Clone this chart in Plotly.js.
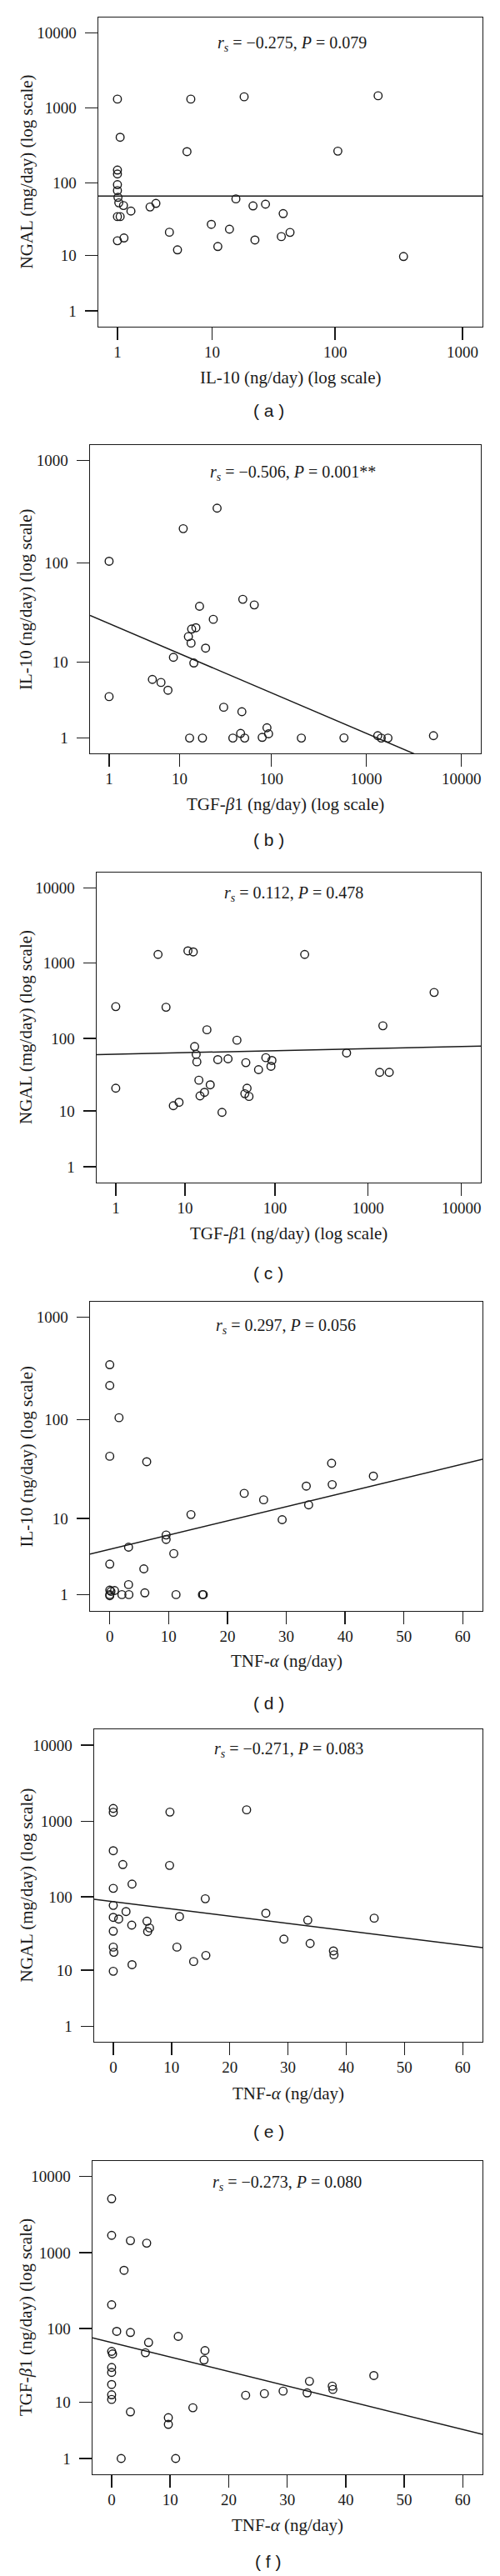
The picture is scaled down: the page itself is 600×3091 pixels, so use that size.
<!DOCTYPE html>
<html>
<head>
<meta charset="utf-8">
<script src="https://cdn.plot.ly/plotly-3.0.1.min.js"></script>
<style>
  html, body { margin: 0; padding: 0; background: #fff; }
  #chart { width: 600px; height: 3091px; }
</style>
</head>
<body>
<div id="chart"></div>
<script>
// (a) IL-10 vs NGAL
const il10_a = [1, 6.5, 18.6, 218, 1.1, 6.0, 105, 1, 1, 1, 1, 1.02, 1.05, 1.23, 1.55, 1, 1.1, 1, 1.25, 2.6, 3.0, 4.1, 4.9, 9.85, 11.2, 14.05, 15.9, 22.0, 22.8, 27.8, 38.6, 37.3, 43.8, 345];
const ngal_a = [1320, 1320, 1416, 1462, 409, 263, 267, 149, 132, 95, 79, 64, 54, 49.6, 41.7, 35, 35, 16.2, 17.7, 47.4, 53, 21.3, 12.0, 27.4, 13.4, 23.5, 61, 49, 16.6, 51.7, 38.5, 18.5, 21.2, 9.6];

// (b) TGF-b1 vs IL-10
const tgf_b = [1, 1, 11.0, 26.2, 49.6, 65.8, 16.8, 23.8, 13.7, 15.3, 12.6, 13.5, 19.6, 8.46, 14.5, 4.69, 6.01, 7.30, 30.9, 48.5, 89.8, 93.4, 47.0, 13.0, 18.1, 38.8, 52.0, 79.9, 207.5, 583, 1320, 1437, 1690, 5076];
const il10_b = [104, 4.06, 217, 344, 43.8, 38.5, 37.3, 27.6, 22.0, 22.7, 18.4, 15.8, 14.0, 11.2, 9.75, 6.44, 5.95, 4.84, 2.99, 2.61, 1.52, 1.2, 1.22, 1, 1, 1, 1, 1.03, 1, 1.01, 1.11, 1, 1, 1.11];

// (c) TGF-b1 vs NGAL
const tgf_c = [1, 1, 4.67, 5.90, 10.84, 12.5, 209, 5092, 1441, 589, 1332, 1686, 17.9, 38.6, 12.96, 13.5, 13.75, 23.7, 30.8, 48.3, 79.7, 92.7, 90.5, 66.4, 14.5, 19.5, 16.8, 14.95, 49.8, 47.1, 52.3, 7.26, 8.51, 26.4];
const ngal_c = [265, 21.0, 1307, 260, 1459, 1412, 1307, 409, 147, 63.6, 34.7, 34.7, 130, 94.3, 77.5, 60.9, 48.2, 51.7, 53.0, 47.0, 54.9, 50.4, 42.0, 37.8, 27.1, 23.4, 18.4, 16.4, 21.0, 17.6, 16.1, 11.9, 13.3, 9.53];

// (d) TNF-a vs IL-10
const tnf_d = [0, 0, 1.57, 0, 6.28, 13.8, 22.85, 26.15, 29.3, 33.4, 33.8, 37.7, 37.8, 44.8, 9.58, 9.58, 3.19, 10.88, 0, 5.79, 3.19, 0, 0.81, 0, 0, 2.06, 3.25, 5.96, 11.26, 15.75, 15.9, 0.2];
const il10_d = [343, 215, 104, 43.3, 38.2, 11.0, 18.3, 15.7, 9.7, 21.7, 13.9, 36.9, 22.5, 27.4, 6.6, 5.88, 4.78, 4.01, 2.96, 2.56, 1.50, 1.21, 1.19, 1.0, 0.95, 1, 1, 1.08, 1, 1, 1, 1.15];

// (e) TNF-a vs NGAL
const tnf_e = [0, 0, 9.73, 22.9, 0, 1.64, 9.67, 3.22, 0, 15.8, 0, 2.19, 26.2, 0, 0.93, 11.37, 44.8, 33.4, 5.79, 3.17, 6.23, 5.9, 0, 29.3, 33.8, 0, 10.93, 0.1, 37.8, 37.9, 15.9, 13.8, 3.22, 0];
const ngal_e = [1468, 1305, 1316, 1408, 408, 268, 261, 148, 130, 94.6, 77.1, 63.9, 60.7, 53.4, 50.7, 54.8, 52.1, 49.0, 47.4, 42.0, 38.5, 34.4, 34.8, 27.2, 23.7, 21.1, 21.1, 17.9, 18.7, 16.5, 16.2, 13.3, 12.0, 9.65];

// (f) TNF-a vs TGF-b1
const tnf_f = [0, 0, 3.21, 5.99, 2.12, 0, 0.87, 3.21, 11.38, 6.31, 15.95, 0, 0.16, 5.77, 15.79, 0, 0, 0, 0, 0, 44.8, 33.8, 37.7, 37.8, 29.3, 33.4, 26.1, 22.9, 3.21, 13.88, 9.69, 9.69, 1.63, 10.94];
const tgf_f = [5108, 1689, 1440, 1335, 587, 207, 92, 88.9, 78.9, 65.5, 51.1, 49.8, 46.1, 47.8, 38.2, 30.3, 25.9, 17.7, 12.7, 10.9, 23.5, 19.6, 16.8, 15.1, 14.3, 13.5, 13.2, 12.5, 7.18, 8.27, 5.86, 4.61, 1, 1];

// fitted lines, in log10(v+1) units (x is log10(x+1) for a-c, raw for d-f)
const fitIntercept = [1.829, 1.534, 1.785, 0.7412, 1.9419, 1.8223];
const fitSlope = [0, -0.3956, 0.0277, 0.01382, -0.009526, -0.01901];

const logTicks4 = [1, 10, 100, 1000];
const logTicks5 = [1, 10, 100, 1000, 10000];
const tnfTicks = [0, 10, 20, 30, 40, 50, 60];

const statText = [
  '<i>r</i><sub><i>s</i></sub> = \u22120.275, <i>P</i> = 0.079',
  '<i>r</i><sub><i>s</i></sub> = \u22120.506, <i>P</i> = 0.001**',
  '<i>r</i><sub><i>s</i></sub> = 0.112, <i>P</i> = 0.478',
  '<i>r</i><sub><i>s</i></sub> = 0.297, <i>P</i> = 0.056',
  '<i>r</i><sub><i>s</i></sub> = \u22120.271, <i>P</i> = 0.083',
  '<i>r</i><sub><i>s</i></sub> = \u22120.273, <i>P</i> = 0.080'
];

const NGAL = 'NGAL (mg/day) (log scale)';
const IL10 = 'IL-10 (ng/day) (log scale)';
const TGF = 'TGF-<i>\u03b2</i>1 (ng/day) (log scale)';
const TNF = 'TNF-<i>\u03b1</i> (ng/day)';

const W = 600, H = 3091;
const serif = 'Liberation Serif, Times New Roman, serif';
const ink = '#1a1a1a';

// box = [left, right, top, bottom] in page pixels
const panels = [
  { x: il10_a, y: ngal_a, xLog: true, xTicks: logTicks4, yTicks: logTicks5,
    xRange: [0.1516, 3.157], yRange: [0.091, 4.207], box: [118, 579, 21, 392],
    xTitle: IL10, yTitle: NGAL, statX: 350, statY: 52, xTitleY: 453, capY: 492, cap: '( a )' },
  { x: tgf_b, y: il10_b, xLog: true, xTicks: logTicks5, yTicks: logTicks4,
    xRange: [0.1005, 4.203], yRange: [0.152, 3.152], box: [108, 577, 534, 904],
    xTitle: TGF, yTitle: IL10, statX: 351, statY: 567, xTitleY: 965, capY: 1008, cap: '( b )' },
  { x: tgf_c, y: ngal_c, xLog: true, xTicks: logTicks5, yTicks: logTicks5,
    xRange: [0.0968, 4.207], yRange: [0.091, 4.2025], box: [116, 577, 1047, 1419],
    xTitle: TGF, yTitle: NGAL, statX: 352, statY: 1072, xTitleY: 1480, capY: 1527, cap: '( c )' },
  { x: tnf_d, y: il10_d, xLog: false, xTicks: tnfTicks, yTicks: logTicks4,
    xRange: [-3.36, 63.35], yRange: [0.142, 3.149], box: [108, 579, 1562, 1933],
    xTitle: TNF, yTitle: IL10, statX: 343, statY: 1592, xTitleY: 1993, capY: 2043, cap: '( d )' },
  { x: tnf_e, y: ngal_e, xLog: false, xTicks: tnfTicks, yTicks: logTicks5,
    xRange: [-3.28, 63.4], yRange: [0.1002, 4.2075], box: [113, 579, 2075, 2450],
    xTitle: TNF, yTitle: NGAL, statX: 346, statY: 2099, xTitleY: 2512, capY: 2557, cap: '( e )' },
  { x: tnf_f, y: tgf_f, xLog: false, xTicks: tnfTicks, yTicks: logTicks5,
    xRange: [-3.27, 63.37], yRange: [0.0935, 4.2035], box: [111, 579, 2593, 2969],
    xTitle: TNF, yTitle: TGF, statX: 344, statY: 2619, xTitleY: 3030, capY: 3073, cap: '( f )' }
];

const traces = [];
const layout = {
  width: W, height: H,
  margin: { l: 0, r: 0, t: 0, b: 0 },
  paper_bgcolor: '#fff', plot_bgcolor: '#fff',
  showlegend: false,
  font: { family: serif, color: ink },
  annotations: []
};

const py = px => 1 - px / H;

panels.forEach((p, i) => {
  const n = i === 0 ? '' : String(i + 1);
  const [l, r, t, b] = p.box;

  // points, plotted at v+1 on log axes
  traces.push({
    x: p.xLog ? p.x.map(v => v + 1) : p.x,
    y: p.y.map(v => v + 1),
    xaxis: 'x' + n, yaxis: 'y' + n,
    mode: 'markers', type: 'scatter', hoverinfo: 'skip',
    marker: { symbol: 'circle-open', size: 9.5, color: ink, line: { width: 1.4, color: ink } }
  });

  // fitted line across the axis range
  const u = p.xRange;
  traces.push({
    x: p.xLog ? u.map(v => Math.pow(10, v)) : u,
    y: u.map(v => Math.pow(10, fitIntercept[i] + fitSlope[i] * v)),
    xaxis: 'x' + n, yaxis: 'y' + n,
    mode: 'lines', type: 'scatter', hoverinfo: 'skip',
    line: { color: ink, width: 1.5 }
  });

  const common = {
    showgrid: false, zeroline: false,
    showline: true, mirror: true, linecolor: ink, linewidth: 1.4,
    ticks: 'outside', ticklen: 15, tickwidth: 1.4, tickcolor: ink,
    tickfont: { family: serif, size: 19, color: ink },
    fixedrange: true
  };

  layout['xaxis' + n] = Object.assign({}, common, {
    type: p.xLog ? 'log' : 'linear',
    domain: [l / W, r / W],
    anchor: 'y' + n,
    range: p.xRange,
    tickmode: 'array',
    tickvals: p.xLog ? p.xTicks.map(v => v + 1) : p.xTicks,
    ticktext: p.xTicks.map(String),
    ticklabelstandoff: -2
  });
  layout['yaxis' + n] = Object.assign({}, common, {
    type: 'log',
    domain: [py(b), py(t)],
    anchor: 'x' + n,
    range: p.yRange,
    tickmode: 'array',
    tickvals: p.yTicks.map(v => v + 1),
    ticktext: p.yTicks.map(String),
    ticklabelstandoff: 6
  });

  const note = (text, x, y, size, extra) => Object.assign({
    text: text, xref: 'paper', yref: 'paper',
    x: x / W, y: py(y), xanchor: 'center', yanchor: 'middle',
    showarrow: false, font: { family: serif, size: size, color: ink }
  }, extra || {});

  layout.annotations.push(note(statText[i], p.statX, p.statY, 20));
  layout.annotations.push(note(p.xTitle, (l + r) / 2, p.xTitleY, 21));
  layout.annotations.push(note(p.yTitle, 31, (t + b) / 2, 21, { textangle: -90 }));
  layout.annotations.push(note(p.cap, 322, p.capY, 21,
    { font: { family: 'Liberation Sans, Arial, sans-serif', size: 21, color: ink } }));
});

Plotly.newPlot('chart', traces, layout, { displayModeBar: false, staticPlot: true });
</script>
</body>
</html>
